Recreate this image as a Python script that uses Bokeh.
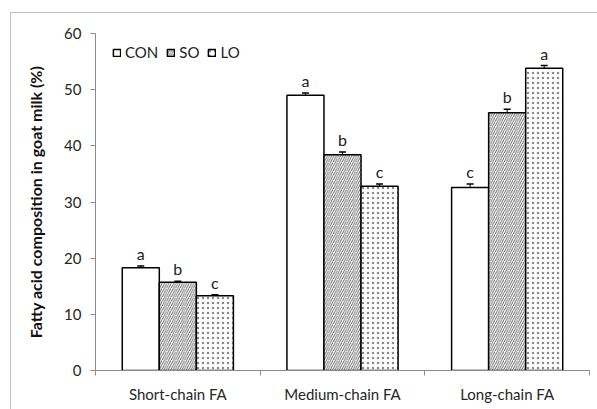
from bokeh.plotting import figure
from bokeh.models import (FixedTicker, Legend, LegendItem, Whisker, TeeHead,
                          ColumnDataSource, Range1d)
from bokeh.core.properties import value
from bokeh.embed import file_html
from bokeh.resources import INLINE
import numpy as np

categories = ["Short-chain FA", "Medium-chain FA", "Long-chain FA"]
series = ["CON", "SO", "LO"]
con = [18.3, 49.0, 32.6]
so = [15.7, 38.4, 45.9]
lo = [13.3, 32.8, 53.8]
con_err = [0.3, 0.4, 0.6]
so_err = [0.2, 0.5, 0.6]
lo_err = [0.2, 0.4, 0.5]
con_lab = ["a", "a", "c"]
so_lab = ["b", "b", "b"]
lo_lab = ["c", "c", "a"]
y_ticks = [0, 10, 20, 30, 40, 50, 60]

FONT = "Lato"
BW = 0.225

p = figure(width=597, height=409, output_backend="svg", toolbar_location=None,
           x_range=Range1d(0, 3), y_range=Range1d(0, 60),
           min_border_left=95, min_border_right=8, min_border_top=33,
           min_border_bottom=39)
p.outline_line_color = None
p.grid.visible = False
p.background_fill_color = "white"
p.border_fill_alpha = 0
# light chart-area border lines (top and left) drawn behind the transparent canvas border
p.styles = {
    "background-color": "white",
    "background-image": "linear-gradient(#c0c0c0, #c0c0c0), linear-gradient(#c0c0c0, #c0c0c0)",
    "background-size": "587px 1px, 1px 397px",
    "background-position": "10px 12px, 10px 12px",
    "background-repeat": "no-repeat",
}

idx = np.arange(len(categories)) + 0.5
styles = [
    dict(fill_color="white"),
    dict(fill_color="white", hatch_pattern="/", hatch_color="#404040", hatch_scale=4.5, hatch_weight=0.8),
    dict(fill_color="white", hatch_pattern=".", hatch_color="#8a8a8a", hatch_scale=5, hatch_weight=1),
]
vals = [con, so, lo]
errs = [con_err, so_err, lo_err]
labs = [con_lab, so_lab, lo_lab]
offsets = [-BW, 0.0, BW]
renderers = []
for k in range(3):
    src = ColumnDataSource(dict(x=idx + offsets[k], top=vals[k],
                                up=np.array(vals[k]) + np.array(errs[k]),
                                lab=labs[k]))
    r = p.vbar(x="x", top="top", bottom=0, width=BW, source=src,
               line_color="black", line_width=1.5, **styles[k])
    renderers.append(r)
    w = Whisker(base="x", lower="top", upper="up", source=src, dimension="height",
                line_color="black", line_width=1,
                upper_head=TeeHead(size=7, line_color="black", line_width=1.5),
                lower_head=None)
    p.add_layout(w)
    p.text(x="x", y="up", text="lab", source=src, text_align="center",
           text_baseline="bottom", y_offset=-3, text_font=value(FONT),
           text_font_size="16px", text_color="#222222")

# y axis
ya = p.yaxis[0]
ya.ticker = FixedTicker(ticks=y_ticks)
ya.axis_line_color = "#8c8c8c"
ya.major_tick_line_color = "#8c8c8c"
ya.major_tick_out = 5
ya.major_tick_in = 0
ya.minor_tick_line_color = None
ya.major_label_text_font = FONT
ya.major_label_text_font_size = "15px"
ya.major_label_text_color = "#262626"
ya.major_label_standoff = 9
ya.axis_label = "Fatty acid composition in goat milk (%)"
ya.axis_label_text_font = FONT
ya.axis_label_text_font_style = "bold"
ya.axis_label_text_font_size = "16px"
ya.axis_label_text_color = "#111111"
ya.axis_label_standoff = 16

# x axis
xa = p.xaxis[0]
xa.ticker = FixedTicker(ticks=list(idx), minor_ticks=[0, 1, 2, 3])
xa.major_label_overrides = {float(v): c for v, c in zip(idx, categories)}
xa.axis_line_color = "#8c8c8c"
xa.major_tick_line_color = None
xa.major_tick_out = 6
xa.major_tick_in = 0
xa.minor_tick_line_color = "#8c8c8c"
xa.minor_tick_out = 5
xa.minor_tick_in = 0
xa.major_label_text_font = FONT
xa.major_label_text_font_size = "15px"
xa.major_label_text_color = "#262626"
xa.major_label_standoff = 8

legend = Legend(items=[LegendItem(label=s, renderers=[r]) for s, r in zip(series, renderers)],
                orientation="horizontal", location=(17, 309),
                border_line_color=None, background_fill_alpha=0,
                glyph_width=9, glyph_height=9, label_standoff=4, spacing=8,
                padding=0, margin=0, label_text_font=FONT,
                label_text_font_size="15px", label_text_color="#222222")
p.add_layout(legend)

open("out.html", "w").write(file_html(p, INLINE))
